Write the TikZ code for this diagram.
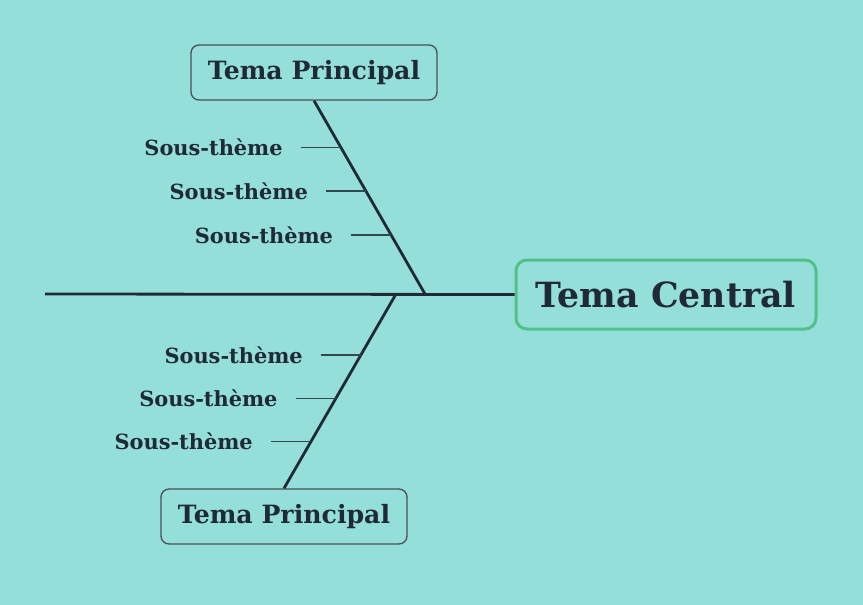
\documentclass[tikz,border=0pt]{standalone}
\usepackage{fontspec}
\setmainfont{DejaVu Serif}
\usetikzlibrary{calc}
\definecolor{fondbleu}{HTML}{95DFDA}
\definecolor{encre}{HTML}{1F2A36}
\definecolor{vertbord}{HTML}{52C08A}
\definecolor{grisbord}{HTML}{4A4F55}
\definecolor{brin}{HTML}{34464E}

\begin{document}
\begin{tikzpicture}[x=1pt,y=-1pt,
  central/.style={draw=vertbord, line width=3pt, rounded corners=11pt, text=encre,
    font=\bfseries\fontsize{34.7}{40}\selectfont, minimum width=300pt, minimum height=69pt, inner sep=0pt},
  principal/.style={draw=grisbord, line width=1.3pt, rounded corners=8pt, text=encre,
    font=\bfseries\fontsize{25.2}{30}\selectfont, minimum width=246pt, minimum height=55pt, inner sep=0pt},
  soustheme/.style={text=encre, font=\bfseries\fontsize{20.9}{24}\selectfont, inner sep=0pt, anchor=east},
  arete/.style={draw=encre, line width=2.8pt},
  branche/.style={draw=brin, line width=1.7pt}]
\fill[fondbleu] (0,0) rectangle (863,605);
\useasboundingbox (0,0) rectangle (863,605);

% noeuds
\node[central] (central) at (666,294.5) {Tema Central};
\node[principal] (princA) at (314,72.5) {Tema Principal};
\node[principal] (princB) at (284,516.5) {Tema Principal};
\coordinate (queue) at (45,294);
\coordinate (jointA) at (425,294);
\coordinate (jointB) at (396,294);

% aretes
\draw[arete] (queue) -- (central.west);
\draw[arete] (princA.south) -- (jointA);
\draw[arete] (jointB) -- (princB.north);

% sous-themes haut
\coordinate (hA1) at ($(princA.south)!0.242!(jointA)$);
\coordinate (hA2) at ($(princA.south)!0.469!(jointA)$);
\coordinate (hA3) at ($(princA.south)!0.696!(jointA)$);
% sous-themes bas
\coordinate (hB1) at ($(jointB)!0.313!(princB.north)$);
\coordinate (hB2) at ($(jointB)!0.538!(princB.north)$);
\coordinate (hB3) at ($(jointB)!0.759!(princB.north)$);

\foreach \h in {hA1,hA2,hA3,hB1,hB2,hB3}{
  \node[soustheme] (s\h) at ([xshift=-58pt]\h) {Sous-thème};
  \coordinate (d\h) at ([xshift=-40pt]\h);
  \draw[branche] (d\h) -- (\h);
}
\end{tikzpicture}
\end{document}
